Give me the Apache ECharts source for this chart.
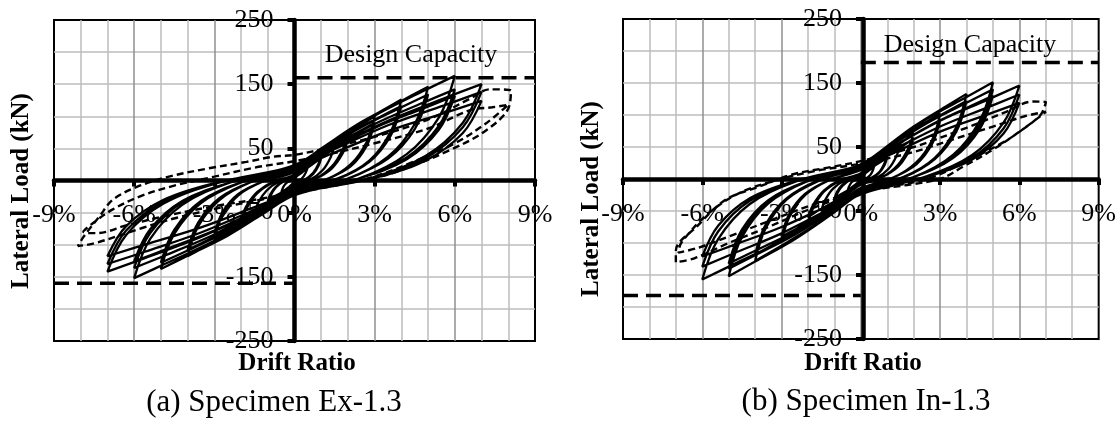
<!DOCTYPE html>
<html>
<head>
<meta charset="utf-8">
<script src="https://cdn.jsdelivr.net/npm/echarts@6/dist/echarts.min.js"></script>
<style>
  html, body { margin: 0; padding: 0; background: #fff; }
  #chart { width: 1119px; height: 421px; }
</style>
</head>
<body>
<div id="chart"></div>
<script>
// Specimen Ex-1.3: cyclic drift (%) vs lateral load (kN), solid cycles up to ±7 %
const exSolid = [
  [0,0],
  [0.2,1],[0.35,7],[0.45,15],[0.5,22],[0.4,18],[0.25,13],[0.1,7],[0,3],
  [-0.2,-1],[-0.35,-6],[-0.45,-13],[-0.5,-20],[-0.4,-16],[-0.25,-12],[-0.1,-6],[0,-3],
  [0.4,2],[0.7,12],[0.9,26],[1,40],[0.8,33],[0.5,23],[0.2,12],[0,5],
  [-0.4,-1],[-0.7,-11],[-0.9,-24],[-1,-36],[-0.8,-30],[-0.5,-21],[-0.2,-11],[0,-5],
  [0.4,1],[0.7,10],[0.9,23],[1,35],[0.8,29],[0.5,20],[0.2,10],[0,5],
  [-0.4,-1],[-0.7,-10],[-0.9,-21],[-1,-32],[-0.8,-26],[-0.5,-19],[-0.2,-10],[0,-4],
  [0.6,2],[1.05,16],[1.35,36],[1.5,55],[1.2,45],[0.75,32],[0.3,16],[0,7],
  [-0.6,-2],[-1.05,-16],[-1.35,-34],[-1.5,-52],[-1.2,-43],[-0.75,-30],[-0.3,-16],[0,-7],
  [0.8,3],[1.4,22],[1.8,48],[2,72],[1.6,59],[1,42],[0.4,22],[0,9],
  [-0.8,-3],[-1.4,-20],[-1.8,-44],[-2,-66],[-1.6,-54],[-1,-38],[-0.4,-20],[0,-9],
  [0.8,3],[1.4,19],[1.8,42],[2,64],[1.6,52],[1,37],[0.4,19],[0,8],
  [-0.8,-2],[-1.4,-18],[-1.8,-40],[-2,-60],[-1.6,-49],[-1,-35],[-0.4,-18],[0,-8],
  [1.2,2],[2.1,25],[2.7,60],[3,100],[2.4,85],[1.5,62],[0.6,34],[0,15],
  [-1.2,-2],[-2.1,-23],[-2.7,-55],[-3,-92],[-2.4,-78],[-1.5,-57],[-0.6,-31],[0,-14],
  [1.2,2],[2.1,22],[2.7,54],[3,90],[2.4,76],[1.5,56],[0.6,31],[0,13],
  [-1.2,-2],[-2.1,-21],[-2.7,-50],[-3,-84],[-2.4,-71],[-1.5,-52],[-0.6,-29],[0,-12],
  [1.6,3],[2.8,31],[3.6,76],[4,126],[3.2,107],[2,78],[0.8,43],[0,19],
  [-1.6,-2],[-2.8,-30],[-3.6,-71],[-4,-118],[-3.2,-100],[-2,-73],[-0.8,-40],[0,-18],
  [1.6,2],[2.8,29],[3.6,70],[4,116],[3.2,99],[2,72],[0.8,39],[0,17],
  [-1.6,-2],[-2.8,-27],[-3.6,-65],[-4,-108],[-3.2,-92],[-2,-67],[-0.8,-37],[0,-16],
  [2,3],[3.5,37],[4.5,88],[5,146],[4,124],[2.5,91],[1,50],[0,22],
  [-2,-3],[-3.5,-35],[-4.5,-83],[-5,-138],[-4,-117],[-2.5,-86],[-1,-47],[0,-21],
  [2,3],[3.5,34],[4.5,80],[5,134],[4,114],[2.5,83],[1,46],[0,20],
  [-2,-3],[-3.5,-32],[-4.5,-77],[-5,-128],[-4,-109],[-2.5,-79],[-1,-44],[0,-19],
  [2.4,3],[4.2,41],[5.4,98],[6,163],[4.8,139],[3,101],[1.2,55],[0,24],
  [-2.4,-3],[-4.2,-38],[-5.4,-91],[-6,-152],[-4.8,-129],[-3,-94],[-1.2,-52],[0,-23],
  [2.4,3],[4.2,36],[5.4,85],[6,142],[4.8,121],[3,88],[1.2,48],[0,21],
  [-2.4,-3],[-4.2,-34],[-5.4,-82],[-6,-136],[-4.8,-116],[-3,-84],[-1.2,-46],[0,-20],
  [2.4,3],[4.2,33],[5.4,79],[6,132],[4.8,112],[3,82],[1.2,45],[0,20],
  [-2.4,-3],[-4.2,-32],[-5.4,-76],[-6,-126],[-4.8,-107],[-3,-78],[-1.2,-43],[0,-19],
  [2.8,3],[4.9,38],[6.3,90],[7,150],[5.6,128],[3.5,93],[1.4,51],[0,23],
  [-2.8,-3],[-4.9,-36],[-6.3,-85],[-7,-142],[-5.6,-121],[-3.5,-88],[-1.4,-48],[0,-21],
  [2.8,3],[4.9,35],[6.3,83],[7,138],[5.6,117],[3.5,86],[1.4,47],[0,21],
  [-2.8,-3],[-4.9,-33],[-6.3,-78],[-7,-130],[-5.6,-111],[-3.5,-81],[-1.4,-44],[0,-20],
  [2.8,2],[4.9,31],[6.3,74],[7,124],[5.6,105],[3.5,77],[1.4,42],[0,19],
  [-2.8,-2],[-4.9,-30],[-6.3,-71],[-7,-118],[-5.6,-100],[-3.5,-73],[-1.4,-40],[0,-18]
];
// Specimen Ex-1.3: final ±8 % cycles (dashed)
const exDashed = [
  [0,-18],
  [3.2,6],[4.3,21],[5.8,47],[7.1,76],[8,112],[8.1,140],[7.3,142],[6.6,128],[5,95],[3,68],[1.2,50],[0,40],
  [-0.8,37],[-1.8,29],[-3.2,19],[-4.7,6],[-5.9,-10],[-6.8,-30],[-7.3,-56],[-7.9,-88],[-8.1,-102],[-7.5,-98],[-5.7,-74],[-4.4,-58],[-2.5,-40],[0,-20],
  [2.8,4],[4.5,30],[6,58],[7.2,90],[8,118],[7.4,114],[6.6,110],[5,81],[3,58],[1.2,40],[0,30],
  [-1.5,20],[-3,6],[-4.5,-8],[-5.8,-25],[-6.8,-45],[-7.5,-65],[-7.9,-80],[-7.4,-82],[-6.3,-70],[-4.8,-55],[-3,-40],[-1.2,-28],[0,-18]
];
const exCapacity = 160;

// Specimen In-1.3: cyclic drift (%) vs lateral load (kN), solid cycles up to ±6 %
const inSolid = [
  [0,0],
  [0.2,1],[0.35,6],[0.45,13],[0.5,20],[0.4,16],[0.25,12],[0.1,6],[0,3],
  [-0.2,-1],[-0.35,-5],[-0.45,-12],[-0.5,-18],[-0.4,-15],[-0.25,-10],[-0.1,-5],[0,-2],
  [0.4,2],[0.7,11],[0.9,25],[1,38],[0.8,31],[0.5,22],[0.2,11],[0,5],
  [-0.4,-1],[-0.7,-11],[-0.9,-23],[-1,-35],[-0.8,-29],[-0.5,-20],[-0.2,-11],[0,-5],
  [0.4,1],[0.7,10],[0.9,22],[1,34],[0.8,28],[0.5,20],[0.2,10],[0,4],
  [-0.4,-1],[-0.7,-9],[-0.9,-20],[-1,-31],[-0.8,-25],[-0.5,-18],[-0.2,-9],[0,-4],
  [0.6,2],[1.05,16],[1.35,36],[1.5,55],[1.2,45],[0.75,32],[0.3,16],[0,7],
  [-0.6,-2],[-1.05,-15],[-1.35,-33],[-1.5,-50],[-1.2,-41],[-0.75,-29],[-0.3,-15],[0,-6],
  [0.8,3],[1.4,22],[1.8,48],[2,72],[1.6,59],[1,42],[0.4,22],[0,9],
  [-0.8,-3],[-1.4,-20],[-1.8,-45],[-2,-68],[-1.6,-56],[-1,-39],[-0.4,-20],[0,-9],
  [0.8,3],[1.4,19],[1.8,42],[2,64],[1.6,52],[1,37],[0.4,19],[0,8],
  [-0.8,-2],[-1.4,-18],[-1.8,-40],[-2,-60],[-1.6,-49],[-1,-35],[-0.4,-18],[0,-8],
  [1.2,2],[2.1,26],[2.7,61],[3,102],[2.4,87],[1.5,63],[0.6,35],[0,15],
  [-1.2,-2],[-2.1,-25],[-2.7,-59],[-3,-98],[-2.4,-83],[-1.5,-61],[-0.6,-33],[0,-15],
  [1.2,2],[2.1,23],[2.7,55],[3,92],[2.4,78],[1.5,57],[0.6,31],[0,14],
  [-1.2,-2],[-2.1,-23],[-2.7,-54],[-3,-90],[-2.4,-77],[-1.5,-56],[-0.6,-31],[0,-14],
  [1.6,3],[2.8,33],[3.6,80],[4,133],[3.2,113],[2,82],[0.8,45],[0,20],
  [-1.6,-3],[-2.8,-32],[-3.6,-77],[-4,-128],[-3.2,-109],[-2,-79],[-0.8,-44],[0,-19],
  [1.6,2],[2.8,31],[3.6,73],[4,122],[3.2,104],[2,76],[0.8,41],[0,18],
  [-1.6,-2],[-2.8,-30],[-3.6,-71],[-4,-118],[-3.2,-100],[-2,-73],[-0.8,-40],[0,-18],
  [2,3],[3.5,38],[4.5,91],[5,151],[4,128],[2.5,94],[1,51],[0,23],
  [-2,-3],[-3.5,-38],[-4.5,-91],[-5,-152],[-4,-129],[-2.5,-94],[-1,-52],[0,-23],
  [2,3],[3.5,35],[4.5,84],[5,140],[4,119],[2.5,87],[1,48],[0,21],
  [-2,-3],[-3.5,-35],[-4.5,-84],[-5,-140],[-4,-119],[-2.5,-87],[-1,-48],[0,-21],
  [2,3],[3.5,33],[4.5,78],[5,130],[4,111],[2.5,81],[1,44],[0,20],
  [-2,-3],[-3.5,-33],[-4.5,-79],[-5,-132],[-4,-112],[-2.5,-82],[-1,-45],[0,-20],
  [2.4,3],[4.2,37],[5.4,88],[6,146],[4.8,124],[3,91],[1.2,50],[0,22],
  [-2.4,-3],[-4.2,-39],[-5.4,-94],[-6,-157],[-4.8,-133],[-3,-97],[-1.2,-53],[0,-24],
  [2.4,3],[4.2,33],[5.4,79],[6,132],[4.8,112],[3,82],[1.2,45],[0,20],
  [-2.4,-3],[-4.2,-34],[-5.4,-82],[-6,-137],[-4.8,-116],[-3,-85],[-1.2,-47],[0,-21],
  [2.4,2],[4.2,30],[5.4,71],[6,119],[4.8,101],[3,74],[1.2,40],[0,18],
  [-2.4,-2],[-4.2,-30],[-5.4,-73],[-6,-121],[-4.8,-103],[-3,-75],[-1.2,-41],[0,-18]
];
// Specimen In-1.3: final ±7 % cycles (dashed)
const inDashed = [
  [0,-18],
  [2.9,-1],[3.9,20],[5,46],[6,74],[6.8,100],[7,120],[6.5,121],[5.5,105],[4,80],[2,50],[0,28],
  [-1.35,17],[-2.6,7],[-3.85,-12],[-5.1,-32],[-6.2,-74],[-7,-112],[-7,-130],[-6.3,-124],[-5,-100],[-3.5,-75],[-1.8,-45],[0,-20],
  [2.5,0],[4,28],[5.5,60],[6.6,92],[7,105],[6.2,98],[5,82],[3.5,62],[1.8,40],[0,24],
  [-1.8,12],[-3.2,-2],[-4.6,-22],[-5.8,-55],[-6.8,-100],[-6.9,-115],[-6.2,-108],[-5,-90],[-3.5,-66],[-1.8,-40],[0,-18]
];
const inCapacity = 182;

// Axis ranges and tick spacing
const driftRange = [-9, 9];
const driftStep = 3;
const loadRange = [-250, 250];
const loadStep = 100;

const SERIF = '"Liberation Serif", "Times New Roman", serif';

// Plot rectangles of the two panels
const panels = [
  { left: 54, top: 20, width: 481, height: 321 },
  { left: 623, top: 19, width: 480, height: 320 }
];

// Both axes cross at zero: shift each axis (line, ticks and labels) to the zero of the other one
function zeroShift(range, size) {
  return -size * (0 - range[0]) / (range[1] - range[0]);
}

function xAxisFor(i) {
  return {
    type: 'value', gridIndex: i, position: 'bottom',
    offset: zeroShift(loadRange, panels[i].height),
    min: driftRange[0], max: driftRange[1], interval: driftStep,
    axisLine: { show: true, onZero: false, lineStyle: { color: '#000', width: 4.5 } },
    axisTick: { show: true, length: 6, lineStyle: { color: '#000', width: 4 } },
    axisLabel: { formatter: '{value}%', color: '#000', fontFamily: SERIF, fontSize: 26, margin: 22 },
    splitLine: { show: true, showMinLine: false, showMaxLine: false, lineStyle: { color: '#8f8f8f', width: 1.5 } },
    minorTick: { show: false, splitNumber: 3 },
    minorSplitLine: { show: true, lineStyle: { color: '#bdbdbd', width: 1.5 } }
  };
}
function yAxisFor(i) {
  return {
    type: 'value', gridIndex: i, position: 'left',
    offset: zeroShift(driftRange, panels[i].width),
    min: loadRange[0], max: loadRange[1], interval: loadStep,
    axisLine: { show: true, onZero: false, lineStyle: { color: '#000', width: 4.5 } },
    axisTick: { show: true, length: 7, lineStyle: { color: '#000', width: 4 } },
    axisLabel: { color: '#000', fontFamily: SERIF, fontSize: 26, margin: 21 },
    splitLine: { show: true, showMinLine: false, showMaxLine: false, lineStyle: { color: '#bdbdbd', width: 1.5 } },
    minorTick: { show: false, splitNumber: 2 },
    minorSplitLine: { show: true, lineStyle: { color: '#bdbdbd', width: 1.5 } }
  };
}
function loopSeries(idx, data, dashed) {
  return {
    type: 'line', xAxisIndex: idx, yAxisIndex: idx, data,
    showSymbol: false, smooth: 0.35, silent: true, z: 3,
    lineStyle: { color: '#000', width: dashed ? 2.4 : 2.3, type: dashed ? [7, 4] : 'solid' }
  };
}
function capacitySeries(idx, cap) {
  const style = { color: '#000', width: 3.5, type: [15, 8] };
  return [
    { type: 'line', xAxisIndex: idx, yAxisIndex: idx, showSymbol: false, silent: true, z: 4,
      data: [[0, cap], [driftRange[1], cap]], lineStyle: style },
    { type: 'line', xAxisIndex: idx, yAxisIndex: idx, showSymbol: false, silent: true, z: 4,
      data: [[driftRange[0], -cap], [0, -cap]], lineStyle: style }
  ];
}

function label(text, x, y, font, rotate) {
  return {
    type: 'text', x, y, rotation: rotate ? Math.PI / 2 : 0, z: 10, silent: true,
    style: { text, font, fill: '#000', textAlign: 'center', textVerticalAlign: 'middle' }
  };
}

const chart = echarts.init(document.getElementById('chart'), null, { renderer: 'canvas' });
chart.setOption({
  animation: false,
  backgroundColor: '#fff',
  grid: panels.map(p => Object.assign({ show: true, borderColor: '#000', borderWidth: 2, backgroundColor: 'transparent' }, p)),
  xAxis: [xAxisFor(0), xAxisFor(1)],
  yAxis: [yAxisFor(0), yAxisFor(1)],
  series: [
    loopSeries(0, exSolid, false),
    loopSeries(0, exDashed, true),
    ...capacitySeries(0, exCapacity),
    loopSeries(1, inSolid, false),
    loopSeries(1, inDashed, true),
    ...capacitySeries(1, inCapacity)
  ],
  graphic: [
    label('Lateral Load (kN)', 22, 191, 'bold 25px ' + SERIF, true),
    label('Lateral Load (kN)', 592, 199, 'bold 25px ' + SERIF, true),
    label('Drift Ratio', 297, 364, 'bold 25px ' + SERIF, false),
    label('Drift Ratio', 863, 364, 'bold 25px ' + SERIF, false),
    label('(a) Specimen Ex-1.3', 274, 403, '31px ' + SERIF, false),
    label('(b) Specimen In-1.3', 866, 402, '31px ' + SERIF, false),
    label('Design Capacity', 411, 55, '26px ' + SERIF, false),
    label('Design Capacity', 970, 45, '26px ' + SERIF, false)
  ]
});
</script>
</body>
</html>
